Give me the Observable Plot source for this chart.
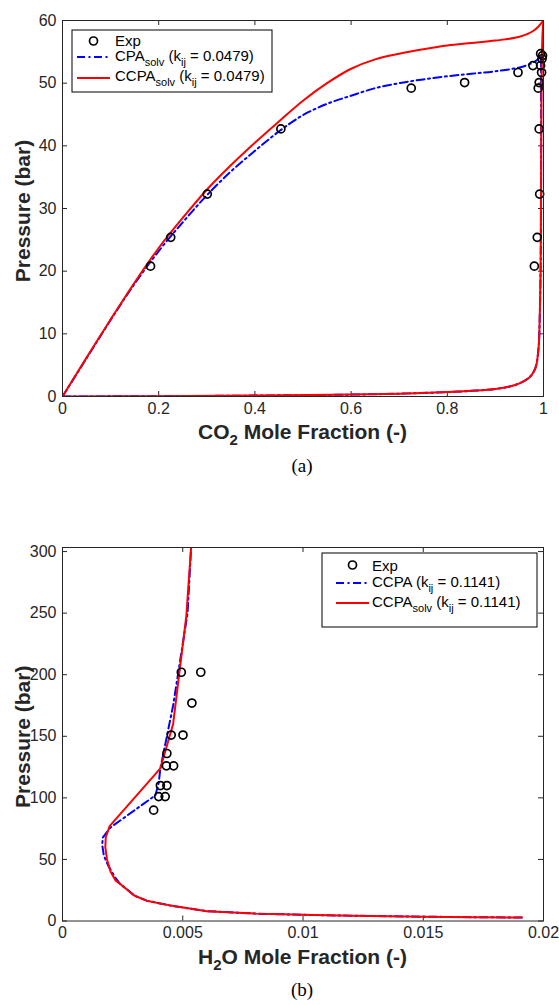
<!DOCTYPE html>
<html><head><meta charset="utf-8">
<script src="https://cdn.jsdelivr.net/npm/d3@7"></script>
<script src="https://cdn.jsdelivr.net/npm/@observablehq/plot@0.6"></script>
<style>
html,body{margin:0;padding:0;background:#fff;}
#wrap{position:relative;width:559px;height:1005px;overflow:hidden;background:#fff;}
#a{position:absolute;left:0;top:0;}
#b{position:absolute;left:0;top:527px;}
.cap{position:absolute;left:0;width:604px;text-align:center;font-family:"Liberation Serif","Times New Roman",serif;font-size:19px;color:#000;line-height:1;}
</style></head><body>
<div id="wrap">
  <div id="a"></div>
  <div class="cap" style="top:456px">(a)</div>
  <div id="b"></div>
  <div class="cap" style="top:980px">(b)</div>
</div>
<script>
const FONT = '"Liberation Sans", Arial, Helvetica, sans-serif';
const AXC = "#262626";

// ---------- Panel (a): CO2 mole fraction vs pressure ----------
const aXTicks = [0, 0.2, 0.4, 0.6, 0.8, 1];
const aYTicks = [0, 10, 20, 30, 40, 50, 60];
const aExpX = [0.183, 0.225, 0.301, 0.454, 0.725, 0.836, 0.947, 0.978,
               0.981, 0.987, 0.992, 0.991, 0.989, 0.991, 0.996, 0.994, 0.997, 0.994, 0.998];
const aExpP = [20.8, 25.4, 32.3, 42.7, 49.2, 50.1, 51.7, 52.8,
               20.8, 25.4, 32.3, 42.7, 49.2, 50.1, 51.7, 52.8, 53.9, 54.7, 54.4];
// CPA_solv (blue dash-dot), upper and lower branches
const aCpaUpX = [0, 0.05, 0.1, 0.15, 0.2, 0.25, 0.3, 0.35, 0.4, 0.45, 0.5, 0.55, 0.6, 0.65, 0.7, 0.75, 0.8, 0.85, 0.9, 0.95, 0.97, 0.985, 0.993];
const aCpaUpP = [0, 6.1, 12.2, 18.0, 23.2, 27.8, 32.1, 35.9, 39.2, 42.3, 44.9, 46.7, 48.0, 49.2, 50.0, 50.6, 51.1, 51.5, 51.9, 52.5, 53.0, 53.6, 54.2];
const aCpaLoX = [0, 0.2, 0.4, 0.6, 0.7, 0.8, 0.85, 0.9, 0.93, 0.95, 0.97, 0.98, 0.985, 0.99, 0.992, 0.994, 0.995, 0.995];
const aCpaLoP = [0, 0.05, 0.15, 0.3, 0.45, 0.7, 0.9, 1.2, 1.6, 2.1, 3.0, 4.0, 5.0, 8, 12, 20, 35, 54.2];
// CCPA_solv (red), upper and lower branches
const aCcpaUpX = [0, 0.05, 0.1, 0.15, 0.2, 0.25, 0.3, 0.35, 0.4, 0.45, 0.5, 0.55, 0.6, 0.65, 0.7, 0.75, 0.8, 0.85, 0.9, 0.95, 0.98, 1];
const aCcpaUpP = [0, 6.2, 12.3, 18.2, 23.7, 28.5, 33.0, 36.9, 40.5, 43.9, 47.2, 50.0, 52.3, 53.8, 54.7, 55.4, 56.0, 56.4, 56.8, 57.4, 58.4, 60];
const aCcpaLoX = [0, 0.2, 0.4, 0.6, 0.7, 0.8, 0.85, 0.9, 0.93, 0.95, 0.97, 0.98, 0.985, 0.99, 0.992, 0.994, 0.995, 0.996, 0.998, 1];
const aCcpaLoP = [0, 0.05, 0.15, 0.3, 0.45, 0.7, 0.9, 1.2, 1.6, 2.1, 3.0, 4.0, 5.0, 8, 12, 20, 35, 50, 58, 60];

// ---------- Panel (b): H2O mole fraction vs pressure ----------
const bXTicks = [0, 0.005, 0.01, 0.015, 0.02];
const bYTicks = [0, 50, 100, 150, 200, 250, 300];
const bExpX = [0.00379, 0.0040, 0.00427, 0.00407, 0.00434, 0.00432, 0.00462, 0.00434, 0.00452, 0.00501, 0.00538, 0.00494, 0.00575];
const bExpP = [90, 101, 101, 110, 110, 126, 126, 136, 151, 151, 177, 202, 202];
// CCPA (blue dash-dot)
const bCcpaX = [0.0191, 0.017, 0.015, 0.012, 0.010, 0.008, 0.006, 0.0045, 0.0035, 0.003, 0.0024, 0.0022, 0.0019, 0.00172, 0.00165, 0.00168, 0.0020, 0.00386, 0.0040, 0.00407, 0.0046, 0.0052, 0.00535];
const bCcpaP = [2.8, 3.1, 3.5, 4.3, 5.0, 6.0, 8.0, 12.5, 16.5, 20.5, 30, 35, 45, 53, 62, 68, 76, 102, 112, 124, 175, 250, 304];
// CCPA_solv (red)
const bSolvX = [0.0191, 0.017, 0.015, 0.012, 0.010, 0.008, 0.006, 0.0045, 0.0035, 0.003, 0.0024, 0.0022, 0.0020, 0.00185, 0.00178, 0.0018, 0.00196, 0.00407, 0.0046, 0.00515, 0.00535];
const bSolvP = [2.8, 3.1, 3.5, 4.3, 5.0, 6.0, 8.0, 12.5, 16.5, 20.5, 30, 33, 40, 50, 60, 68, 77, 124, 160, 248, 304];

const zip = (xs, ps, branch) => xs.map((x, i) => ({x, p: ps[i], branch}));

function panel(opts) {
  const W = 559, mL = 62, mR = 16;
  const plotH = opts.height - opts.mt - opts.mb;
  const plotW = W - mL - mR;
  const tick = 5;
  const fmt = d3.format("~g");
  const svg = Plot.plot({
    width: W, height: opts.height,
    marginTop: opts.mt, marginBottom: opts.mb, marginLeft: mL, marginRight: mR,
    x: {domain: opts.xDomain, label: null},
    y: {domain: opts.yDomain, label: null},
    style: {fontFamily: FONT, fontSize: "16px", color: AXC, background: "white", overflow: "visible"},
    marks: [
      Plot.axisX({ticks: opts.xTicks, tickSize: 0, tickPadding: 6, tickFormat: fmt, label: null, fontSize: 16}),
      Plot.axisY({ticks: opts.yTicks, tickSize: 0, tickPadding: 6, tickFormat: fmt, label: null, fontSize: 16}),
      Plot.ruleX(opts.xTicks, {x: d => d, insetTop: plotH - tick, stroke: AXC, strokeWidth: 1}),
      Plot.ruleX(opts.xTicks, {x: d => d, insetBottom: plotH - tick, stroke: AXC, strokeWidth: 1}),
      Plot.ruleY(opts.yTicks, {y: d => d, insetRight: plotW - tick, stroke: AXC, strokeWidth: 1}),
      Plot.ruleY(opts.yTicks, {y: d => d, insetLeft: plotW - tick, stroke: AXC, strokeWidth: 1}),
      Plot.line(opts.blue, {x: "x", y: "p", z: "branch", stroke: "#0000ff", strokeWidth: 2,
        strokeDasharray: "8,3.5,2,3.5", curve: opts.curve, clip: true}),
      Plot.line(opts.red, {x: "x", y: "p", z: "branch", stroke: "#ff0000", strokeWidth: 2, curve: opts.curve, clip: true}),
      Plot.dot(opts.exp, {x: "x", y: "p", r: 4, stroke: "#000", strokeWidth: 1.7, fill: "none"}),
      Plot.frame({stroke: AXC, strokeWidth: 1})
    ]
  });
  const s = d3.select(svg);
  // x title with subscript
  const xt = s.append("text").attr("x", mL + plotW / 2).attr("y", opts.mt + plotH + 43)
    .attr("text-anchor", "middle").attr("font-family", FONT).attr("font-size", 21)
    .attr("font-weight", "bold").attr("fill", AXC);
  addParts(xt, opts.xTitle, 21, 15, 6);
  // y title
  s.append("text").attr("transform", `translate(23,${opts.mt + plotH / 2 + 3}) rotate(-90)`)
    .attr("text-anchor", "middle").attr("dy", "0.35em").attr("font-family", FONT)
    .attr("font-size", 21).attr("font-weight", "bold").attr("fill", AXC).text("Pressure (bar)");
  legend(s, opts.legend);
  return svg;
}

function addParts(t, parts, size, subSize, shift) {
  let cur = 0;
  parts.forEach(([str, sub]) => {
    const target = sub ? shift : 0;
    const ts = t.append("tspan").text(str).attr("font-size", sub ? subSize : size);
    if (target !== cur) ts.attr("dy", target - cur);
    cur = target;
  });
}

function legend(s, L) {
  const g = s.append("g").attr("text-anchor", "start");
  g.append("rect").attr("x", L.x).attr("y", L.y).attr("width", L.w).attr("height", L.h)
    .attr("fill", "#fff").attr("stroke", "#000").attr("stroke-width", 1);
  L.rows.forEach(r => {
    if (r.kind === "dot") {
      g.append("circle").attr("cx", (L.sx1 + L.sx2) / 2).attr("cy", r.ly).attr("r", 4)
        .attr("fill", "none").attr("stroke", "#000").attr("stroke-width", 1.7);
    } else {
      g.append("line").attr("x1", L.sx1).attr("x2", L.sx2).attr("y1", r.ly).attr("y2", r.ly)
        .attr("stroke", r.color).attr("stroke-width", 2)
        .attr("stroke-dasharray", r.kind === "dashdot" ? "8,3.5,2,3.5" : null);
    }
    const t = g.append("text").attr("x", L.tx).attr("y", r.ty + 5.5).attr("text-anchor", "start")
      .attr("font-family", FONT).attr("font-size", 15).attr("fill", "#000");
    addParts(t, r.parts, 15, 11, 5);
  });
}

const svgA = panel({
  height: 450, mt: 20, mb: 54,
  xDomain: [0, 1], yDomain: [0, 60], xTicks: aXTicks, yTicks: aYTicks, curve: "catmull-rom",
  exp: zip(aExpX, aExpP, "exp"),
  blue: [...zip(aCpaUpX, aCpaUpP, "up"), ...zip(aCpaLoX, aCpaLoP, "lo")],
  red: [...zip(aCcpaUpX, aCcpaUpP, "up"), ...zip(aCcpaLoX, aCcpaLoP, "lo")],
  xTitle: [["CO"], ["2", true], [" Mole Fraction (-)"]],
  legend: {x: 72, y: 30, w: 200, h: 62, sx1: 77, sx2: 110, tx: 115, rows: [
    {kind: "dot", ly: 41, ty: 40, parts: [["Exp"]]},
    {kind: "dashdot", color: "#0000ff", ly: 57, ty: 55, parts: [["CPA"], ["solv", true], [" (k"], ["ij", true], [" = 0.0479)"]]},
    {kind: "solid", color: "#ff0000", ly: 78, ty: 75, parts: [["CCPA"], ["solv", true], [" (k"], ["ij", true], [" = 0.0479)"]]}
  ]}
});
document.getElementById("a").appendChild(svgA);

const svgB = panel({
  height: 450, mt: 20, mb: 56.5,
  xDomain: [0, 0.02], yDomain: [0, 303.3], xTicks: bXTicks, yTicks: bYTicks, curve: "linear",
  exp: zip(bExpX, bExpP, "exp"),
  blue: zip(bCcpaX, bCcpaP, "b"),
  red: zip(bSolvX, bSolvP, "r"),
  xTitle: [["H"], ["2", true], ["O Mole Fraction (-)"]],
  legend: {x: 322, y: 26, w: 215, h: 74, sx1: 336, sx2: 369, tx: 372, rows: [
    {kind: "dot", ly: 38, ty: 38, parts: [["Exp"]]},
    {kind: "dashdot", color: "#0000ff", ly: 56, ty: 54, parts: [["CCPA (k"], ["ij", true], [" = 0.1141)"]]},
    {kind: "solid", color: "#ff0000", ly: 76, ty: 74, parts: [["CCPA"], ["solv", true], [" (k"], ["ij", true], [" = 0.1141)"]]}
  ]}
});
document.getElementById("b").appendChild(svgB);
</script>
</body></html>
